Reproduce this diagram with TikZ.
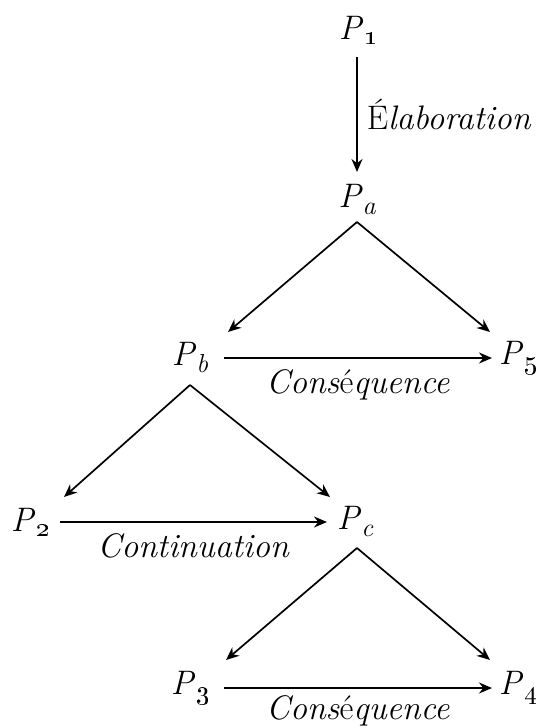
\documentclass[tikz,border=0pt]{standalone}
\usepackage{graphicx}
\usetikzlibrary{arrows.meta,calc}
\newcommand{\Pnum}[1]{\textit{P}\kern1pt\raisebox{-5pt}{\scalebox{2.6}{\fontsize{10}{10}\selectfont\oldstylenums{#1}}}}
\newcommand{\Plet}[1]{\textit{P}\kern0pt\raisebox{-7pt}{\fontsize{26}{26}\selectfont\itshape #1}}
\begin{document}
\begin{tikzpicture}[x=1pt,y=-1pt,
  lbl/.style={font=\fontsize{34}{40}\selectfont, inner sep=0pt},
  arr/.style={line width=1.7pt, -{Stealth[length=13pt,width=11pt]}}]
\useasboundingbox (0,0) rectangle (540,728);
% nodes
\node[lbl] (P1) at (358,30) {\Pnum{1}};
\node[lbl] (Pa) at (357,200) {\Plet{a}};
\node[lbl] (Pb) at (190,358) {\Plet{b}};
\node[lbl] (P5) at (518,358) {\Pnum{5}};
\node[lbl] (P2) at (30,522) {\Pnum{2}};
\node[lbl] (Pc) at (355,522) {\Plet{c}};
\node[lbl] (P3) at (190,688) {\Pnum{3}};
\node[lbl] (P4) at (518,688) {\Pnum{4}};
% edges
\draw[arr] ($(P1)+(-1,27)$) -- ($(Pa)+(0,-28)$)
  node[lbl, midway, right=9pt] {\textup{É}\textit{laboration}};
\draw[arr] ($(Pa)+(0,22)$) -- ($(Pb)+(38,-26)$);
\draw[arr] ($(Pa)+(0,22)$) -- ($(P5)+(-28,-26)$);
\draw[arr] ($(Pb)+(34,0)$) -- ($(P5)+(-26,0)$)
  node[lbl, midway, below=11pt] {\textit{Cons\textup{é}quence}};
\draw[arr] ($(Pb)+(0,27)$) -- ($(P2)+(34,-25)$);
\draw[arr] ($(Pb)+(0,27)$) -- ($(Pc)+(-25,-25)$);
\draw[arr] ($(P2)+(30,0)$) -- ($(Pc)+(-28,0)$)
  node[lbl, midway, below=11pt] {\textit{Continuation}};
\draw[arr] ($(Pc)+(2,26)$) -- ($(P3)+(36,-28)$);
\draw[arr] ($(Pc)+(2,26)$) -- ($(P4)+(-28,-28)$);
\draw[arr] ($(P3)+(34,0)$) -- ($(P4)+(-26,0)$)
  node[lbl, midway, below=7pt] {\textit{Cons\textup{é}quence}};
\end{tikzpicture}
\end{document}
